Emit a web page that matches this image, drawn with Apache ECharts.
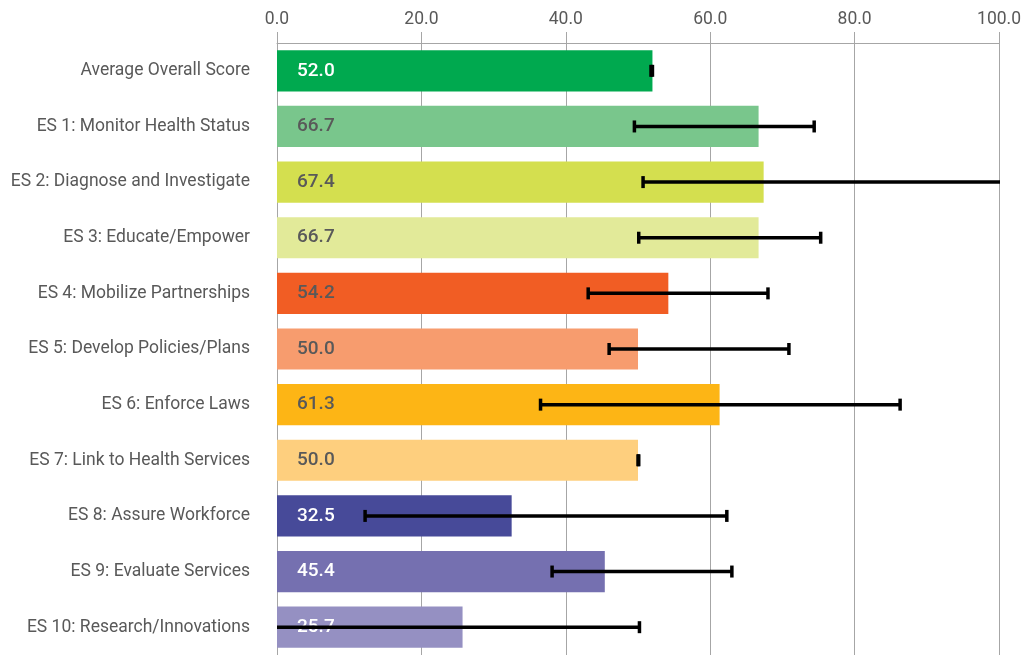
<!DOCTYPE html>
<html>
<head>
<meta charset="utf-8">
<script src="https://cdn.jsdelivr.net/npm/echarts@6/dist/echarts.min.js"></script>
<style>
html,body{margin:0;padding:0;background:#fff;}
#chart{width:1024px;height:655px;}
</style>
</head>
<body>
<div id="chart"></div>
<script>
var categories = [
  "Average Overall Score",
  "ES 1: Monitor Health Status",
  "ES 2: Diagnose and Investigate",
  "ES 3: Educate/Empower",
  "ES 4: Mobilize Partnerships",
  "ES 5: Develop Policies/Plans",
  "ES 6: Enforce Laws",
  "ES 7: Link to Health Services",
  "ES 8: Assure Workforce",
  "ES 9: Evaluate Services",
  "ES 10: Research/Innovations"
];
var scores = [52.0, 66.7, 67.4, 66.7, 54.2, 50.0, 61.3, 50.0, 32.5, 45.4, 25.7];
var rangeLow = [51.8, 49.5, 50.7, 50.1, 43.1, 46.0, 36.5, 50.0, 12.2, 38.1, -2];
var rangeHigh = [52.0, 74.4, 102, 75.3, 68.0, 70.9, 86.3, 50.1, 62.3, 63.0, 50.2];
var barColors = ["#00a94f", "#79c68c", "#d4df4f", "#e2ea99", "#f15d24", "#f79c6e", "#fdb515", "#fecf7e", "#474a99", "#7570b0", "#9590c2"];
var labelColors = ["#ffffff", "#595959", "#595959", "#595959", "#595959", "#595959", "#595959", "#595959", "#ffffff", "#ffffff", "#ffffff"];
var tickValues = [0, 20, 40, 60, 80, 100];

var chart = echarts.init(document.getElementById('chart'), null, {renderer: 'canvas'});

var barData = scores.map(function (v, i) {
  return {
    value: v,
    itemStyle: {color: barColors[i]},
    label: {color: labelColors[i]}
  };
});
var errData = categories.map(function (c, i) {
  return [i, rangeLow[i], rangeHigh[i]];
});

var option = {
  animation: false,
  backgroundColor: '#ffffff',
  grid: {left: 277, right: 20, top: 43, bottom: 0, containLabel: false},
  xAxis: {
    type: 'value',
    position: 'top',
    min: 0,
    max: 100,
    interval: 20,
    axisLine: {show: true, lineStyle: {color: '#a6a6a6', width: 1}},
    axisTick: {show: true, length: 11, lineStyle: {color: '#a6a6a6', width: 1}},
    axisLabel: {
      color: '#595959',
      fontFamily: 'Roboto',
      fontSize: 17.5,
      margin: 14,
      formatter: function (v) { return v.toFixed(1); }
    },
    splitLine: {show: true, lineStyle: {color: '#a6a6a6', width: 1}}
  },
  yAxis: {
    type: 'category',
    data: categories,
    inverse: true,
    axisLine: {show: true, lineStyle: {color: '#a6a6a6', width: 1}},
    axisTick: {show: false},
    axisLabel: {color: '#595959', fontFamily: 'Roboto', fontSize: 17.5, margin: 27, padding: [6, 0, 0, 0]}
  },
  series: [
    {
      type: 'bar',
      data: barData,
      barCategoryGap: '26%',
      label: {
        show: true,
        position: 'insideLeft',
        distance: 20,
        fontFamily: 'Roboto',
        fontWeight: 500,
        fontSize: 19,
        padding: [2, 0, 0, 0],
        formatter: function (p) { return p.value.toFixed(1); }
      }
    },
    {
      type: 'custom',
      clip: true,
      data: errData,
      renderItem: function (params, api) {
        var idx = api.value(0);
        var lo = api.coord([api.value(1), idx]);
        var hi = api.coord([api.value(2), idx]);
        var h = 6;
        var style = {stroke: '#000000', lineWidth: 3.5};
        return {
          type: 'group',
          children: [
            {type: 'line', shape: {x1: lo[0], y1: lo[1], x2: hi[0], y2: hi[1]}, style: style},
            {type: 'line', shape: {x1: lo[0], y1: lo[1] - h, x2: lo[0], y2: lo[1] + h}, style: style},
            {type: 'line', shape: {x1: hi[0], y1: hi[1] - h, x2: hi[0], y2: hi[1] + h}, style: style}
          ]
        };
      },
      z: 10
    }
  ]
};
chart.setOption(option);
</script>
</body>
</html>
